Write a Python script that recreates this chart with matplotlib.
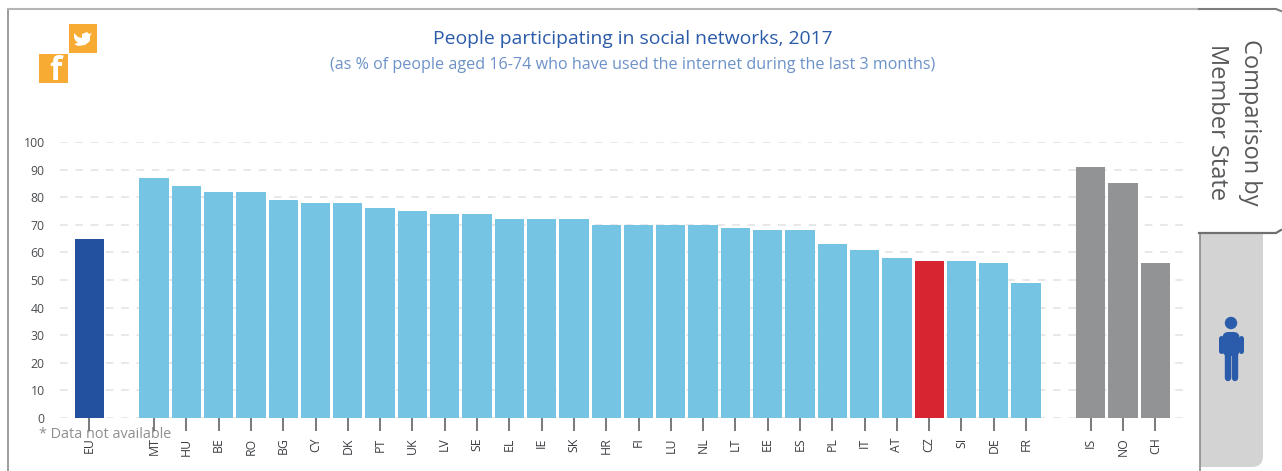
import matplotlib
matplotlib.use('Agg')
import matplotlib.pyplot as plt
from matplotlib.patches import Rectangle, Circle, FancyBboxPatch, PathPatch
from matplotlib.path import Path

plt.rcParams['font.family'] = ['Open Sans', 'DejaVu Sans']

W, H = 1282, 471

eu_labels = ['EU']
eu_values = [65]
ms_labels = ['MT', 'HU', 'BE', 'RO', 'BG', 'CY', 'DK', 'PT', 'UK', 'LV', 'SE', 'EL', 'IE', 'SK',
             'HR', 'FI', 'LU', 'NL', 'LT', 'EE', 'ES', 'PL', 'IT', 'AT', 'CZ', 'SI', 'DE', 'FR']
ms_values = [87, 84, 82, 82, 79, 78, 78, 76, 75, 74, 74, 72, 72, 72,
             70, 70, 70, 70, 69, 68, 68, 63, 61, 58, 57, 57, 56, 49]
efta_labels = ['IS', 'NO', 'CH']
efta_values = [91, 85, 56]
y_ticks = [0, 10, 20, 30, 40, 50, 60, 70, 80, 90, 100]

BLUE = '#2450a0'
LIGHT = '#75c4e4'
RED = '#d72532'
GREY = '#929395'
ORANGE = '#f7ab33'

fig = plt.figure(figsize=(W / 100, H / 100), dpi=100)

# overlay in pixel coords for frame, tabs, icons
bg = fig.add_axes([0, 0, 1, 1])
bg.set_xlim(0, W)
bg.set_ylim(H, 0)
bg.axis('off')

frame = '#8a8c8c'
bg.plot([8, 8], [471, 9], color=frame, lw=1.2)
bg.plot([8, 1199], [9, 9], color='#b4b6b6', lw=1.5)
bg.plot([1199, 1276, 1281], [9, 9, 11], color='#7d7f7f', lw=1.5)
bg.add_patch(FancyBboxPatch((1170, 244), 93, 223, boxstyle='round,pad=0,rounding_size=11',
                            fc='#d3d3d3', ec='none'))
bg.add_patch(Rectangle((1170, 232), 30, 239, fc='white', ec='none', zorder=2))
bg.add_patch(Rectangle((1200, 233), 63, 20, fc='#d3d3d3', ec='none', zorder=2))
bg.plot([1199.5, 1199.5], [233, 471], color=frame, lw=1.2, zorder=3)
bg.plot([1199, 1276, 1281], [233, 233, 230], color='#6f7171', lw=1.6, zorder=3)

bg.text(1250, 122, 'Comparison by', rotation=270, ha='center', va='center',
        fontsize=17, color='#58595b')
bg.text(1217, 122, 'Member State', rotation=270, ha='center', va='center',
        fontsize=17, color='#58595b')

# person icon
ICON = '#2a5cab'
bg.add_patch(Circle((1231, 323), 6.2, fc=ICON, ec='none', zorder=4))
bg.add_patch(FancyBboxPatch((1222.5, 332), 17, 24, boxstyle='round,pad=0,rounding_size=6',
                            fc=ICON, ec='none', zorder=4))
for x0, y0, x1, y1, lw in [(1221, 338, 1221, 351, 3.6), (1241, 338, 1241, 351, 3.6),
                           (1227.5, 352, 1227.5, 378, 4.6), (1234.5, 352, 1234.5, 378, 4.6)]:
    bg.plot([x0, x1], [y0, y1], color=ICON, lw=lw, solid_capstyle='round', zorder=4)

# social icons
bg.add_patch(Rectangle((69, 24), 28, 29, fc=ORANGE, ec='none'))
bg.add_patch(Rectangle((39, 54), 29, 29, fc=ORANGE, ec='none'))
bg.text(56, 71, 'f', color='white', fontsize=23, fontweight='bold', ha='center', va='center')
bird = Path([(74, 33), (78, 37), (82, 38), (82, 34), (87, 32), (89, 34), (92, 33), (90, 36),
             (90, 41), (85, 45), (78, 46), (74, 44), (78, 43), (75, 40), (74, 37), (74, 33)])
bg.add_patch(PathPatch(bird, fc='white', ec='none'))

bg.text(633, 39, 'People participating in social networks, 2017', ha='center', va='center',
        fontsize=13.9, color='#2a5aa8')
bg.text(633, 65, '(as % of people aged 16-74 who have used the internet during the last 3 months)',
        ha='center', va='center', fontsize=11.6, color='#6d92c8')
bg.text(39, 435, '* Data not available', ha='left', va='center', fontsize=10.4,
        color='#8e8e8e', zorder=6)

# chart axes: gridlines run 60-1183 px, value 100 at 142 px, 0 at 418 px
STEP = 32.3
ax = fig.add_axes([60 / W, 1 - 418 / H, (1183 - 60) / W, (418 - 142) / H])
ax.patch.set_alpha(0)
ax.set_xlim((60 - 154) / STEP, (1183 - 154) / STEP)
ax.set_ylim(0, 100)

pos_eu = [-2]
pos_ms = list(range(len(ms_labels)))
pos_efta = [len(ms_labels) + 1 + i for i in range(len(efta_labels))]
ms_colors = [RED if c == 'CZ' else LIGHT for c in ms_labels]

ax.bar(pos_eu, eu_values, width=0.91, color=BLUE, zorder=3)
ax.bar(pos_ms, ms_values, width=0.91, color=ms_colors, zorder=3)
ax.bar(pos_efta, efta_values, width=0.91, color=GREY, zorder=3)

ax.set_yticks(y_ticks)
ax.yaxis.grid(True, color='#e2e2e2', lw=1.1, linestyle=(0, (5, 5)), zorder=0)
ax.set_axisbelow(True)
ax.tick_params(axis='y', length=0, pad=11, labelsize=8.8, labelcolor='#4a4c4f')
ax.set_xticks(pos_eu + pos_ms + pos_efta)
ax.set_xticklabels(eu_labels + ms_labels + efta_labels, rotation=90, fontsize=8.8, color='#3c3e42')
ax.tick_params(axis='x', length=9, width=1.4, color='#77797b', pad=5)
for s in ax.spines.values():
    s.set_visible(False)

fig.savefig('out.png', dpi=100)
